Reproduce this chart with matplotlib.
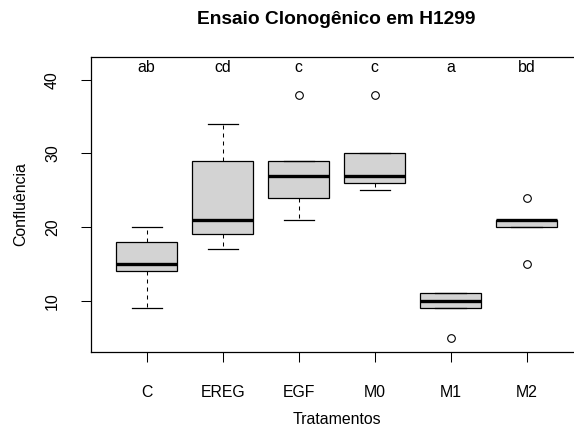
import matplotlib
matplotlib.use('Agg')
import matplotlib.pyplot as plt

plt.rcParams['font.family'] = ['Liberation Sans', 'DejaVu Sans']

# confluence per treatment #
tratamentos = ['C', 'EREG', 'EGF', 'M0', 'M1', 'M2']
conf_c = [9, 14, 15, 18, 20]
conf_ereg = [17, 19, 21, 29, 34]
conf_egf = [21, 24, 27, 29, 38]
conf_m0 = [25, 26, 27, 30, 38]
conf_m1 = [5, 9, 10, 11, 11]
conf_m2 = [15, 20, 21, 21, 24]
letras = ['ab', 'cd', 'c', 'c', 'a', 'bd']
y_letras = 41.1

dados = [conf_c, conf_ereg, conf_egf, conf_m0, conf_m1, conf_m2]
pos = list(range(1, len(tratamentos) + 1))

fig = plt.figure(figsize=(5.74, 4.30), dpi=100)
ax = fig.add_axes([0.1577, 0.1814, 0.8578, 0.686])

dash = (0, (3.84, 3.84))
ax.boxplot(dados, positions=pos, widths=0.8, capwidths=0.4, whis=1.5,
           patch_artist=True,
           boxprops=dict(facecolor='#D3D3D3', edgecolor='black', linewidth=0.9),
           medianprops=dict(color='black', linewidth=2.4),
           whiskerprops=dict(color='black', linewidth=0.75, linestyle=dash),
           capprops=dict(color='black', linewidth=0.9),
           flierprops=dict(marker='o', markerfacecolor='none',
                           markeredgecolor='black', markersize=5.5,
                           markeredgewidth=0.8))

# group letters above each box #
for p, l in zip(pos, letras):
    ax.text(p, y_letras, l, ha='center', va='baseline', fontsize=11.4)

ax.set_xlim(0.26, 6.74)
ax.set_ylim(3.04, 43.1)
ax.set_xticks(pos)
ax.set_xticklabels(tratamentos)
ax.set_yticks([10, 20, 30, 40])
ax.set_yticklabels(['10', '20', '30', '40'], rotation=90, va='center')

ax.tick_params(axis='both', direction='out', length=7, width=0.75,
               labelsize=11.4, color='black')
ax.tick_params(axis='x', pad=17)
ax.tick_params(axis='y', pad=15)
for s in ax.spines.values():
    s.set_linewidth(0.9)

ax.set_xlabel('Tratamentos', fontsize=11.4)
ax.set_ylabel('Confluência', fontsize=11.4)
ax.xaxis.set_label_coords(0.5, -0.202)
ax.yaxis.set_label_coords(-0.1263, 0.5)

fig.text(0.5865, 1 - 23.5 / 430, 'Ensaio Clonogênico em H1299', ha='center',
         va='baseline', fontsize=13.8, fontweight='bold')

plt.savefig('out.png', dpi=100)
plt.close(fig)
